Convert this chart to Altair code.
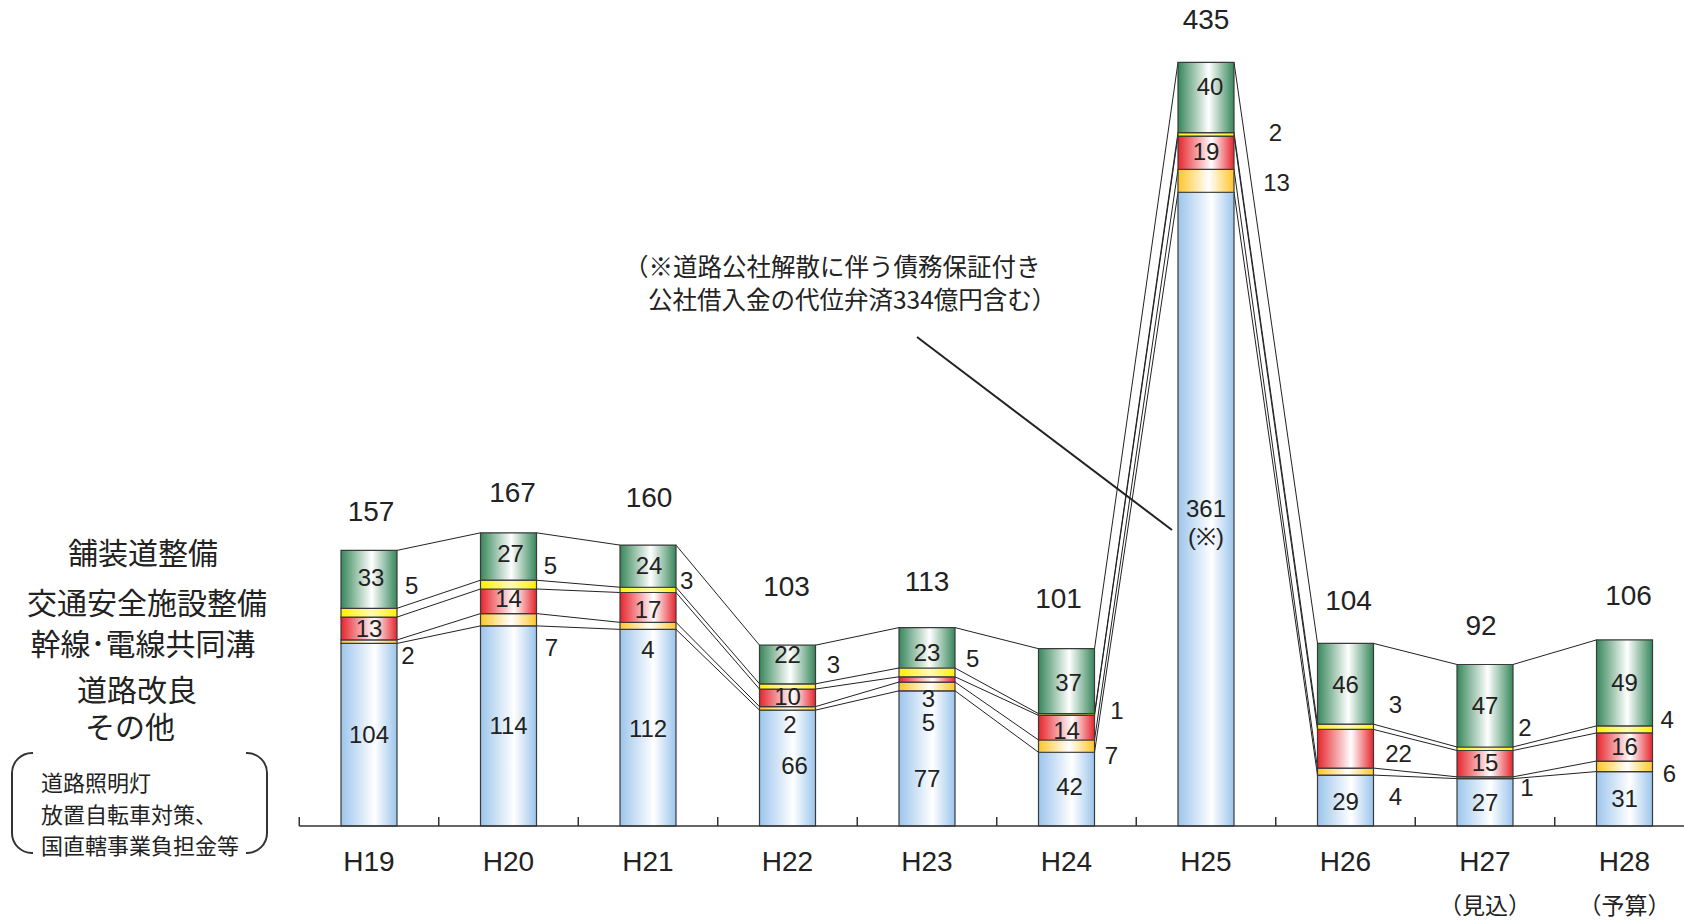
import altair as alt
import pandas as pd

# ---------------- data ----------------
years = ["H19", "H20", "H21", "H22", "H23", "H24", "H25", "H26", "H27", "H28"]
year_notes = ["", "", "", "", "", "", "", "", "（見込）", "（予算）"]
totals = [157, 167, 160, 103, 113, 101, 435, 104, 92, 106]
sonota = [104, 114, 112, 66, 77, 42, 361, 29, 27, 31]        # その他
kairyo = [2, 7, 4, 2, 5, 7, 13, 4, 1, 6]                       # 道路改良
kansen = [13, 14, 17, 10, 3, 14, 19, 22, 15, 16]               # 幹線・電線共同溝
kotsu = [5, 5, 3, 3, 5, 1, 2, 3, 2, 4]                         # 交通安全施設整備
hoso = [33, 27, 24, 22, 23, 37, 40, 46, 47, 49]                # 舗装道整備
series_names = ["その他", "道路改良", "幹線・電線共同溝", "交通安全施設整備", "舗装道整備"]
series_values = [sonota, kairyo, kansen, kotsu, hoso]

# ---------------- layout / style ----------------
X_DOMAIN = [-0.5, 9.5]
X_RANGE = [299.25, 1694.25]
STEP = (X_RANGE[1] - X_RANGE[0]) / 10.0
Y_DOMAIN = [0, 470.5]
Y_RANGE = [826, 0]
PPU = (Y_RANGE[0] - Y_RANGE[1]) / Y_DOMAIN[1]
HALF = 28 / STEP  # half bar width in x units

NUM_FONT = "Liberation Sans"
JP_FONT = "Noto Sans CJK JP"
INK = "#222222"

# label nudges in pixels (dx, dy) relative to segment centre
nudges = {
    "その他": [(0, 1), (0, 1), (0, 2), (7, -1), (0, 22), (3, -1), (0, 1), (0, 2), (0, 2), (0, 1)],
    "道路改良": [(39, 15), (43, 29), (0, 25), (2.5, 18), (1.5, 38), (45, 11), (70.5, 3), (50, 26), (42, 11), (45, 9)],
    "幹線・電線共同溝": [(0, 1.5), (0, -1), (0, 4), (0, 0.5), (1.5, 21), (0, 4), (0, 0.5), (53, 6), (0, 0.5), (0, 1)],
    "交通安全施設整備": [(42.7, -26), (42, -18), (38.7, -8), (45.8, -20), (45.7, -12), (50.5, -3), (69.5, 0), (50, -21), (40, -20), (42.7, -8)],
    "舗装道整備": [(2, 0), (2, -1.5), (1, 1), (0, -8), (0, 6), (2, 3), (4, -9), (0, 2), (0, 1), (0, 1)],
}
total_nudges = [(2, -37), (4, -38.5), (1, -46), (-1, -57), (0, -45), (-8, -49), (0, -41), (3, -41), (-4, -37), (4, -43)]


def grad(edge, mid, pos):
    return {
        "gradient": "linear", "x1": 0, "x2": 1, "y1": 0, "y2": 0,
        "stops": [
            {"offset": 0, "color": edge},
            {"offset": pos, "color": mid},
            {"offset": 1, "color": edge},
        ],
    }


fills = {
    "その他": grad("#9cc5ec", "#ffffff", 0.6),
    "道路改良": grad("#ffc52a", "#ffffff", 0.55),
    "幹線・電線共同溝": grad("#e6262d", "#ffffff", 0.6),
    "交通安全施設整備": grad("#fff000", "#fffbb8", 0.55),
    "舗装道整備": grad("#37875a", "#ffffff", 0.55),
}

xs = alt.Scale(domain=X_DOMAIN, range=X_RANGE, nice=False, zero=False)
ys = alt.Scale(domain=Y_DOMAIN, range=Y_RANGE, nice=False, zero=False)

# ---------------- derived tables ----------------
seg_rows, lab_rows = [], []
cums = []
for i, yr in enumerate(years):
    c = 0
    levels = []
    for s, vals in zip(series_names, series_values):
        v = vals[i]
        seg_rows.append({"series": s, "year": yr, "x0": i - HALF, "x1": i + HALF, "y0": c, "y1": c + v})
        dx, dy = nudges[s][i]
        lab_rows.append({"x": i + dx / STEP, "y": c + v / 2 - dy / PPU, "t": str(v)})
        c += v
        levels.append(c)
    cums.append(levels)
segs = pd.DataFrame(seg_rows)
labs = pd.DataFrame(lab_rows)

link_rows = []
for i in range(len(years) - 1):
    for j in range(5):
        link_rows.append({"x": i + HALF, "x2": i + 1 - HALF, "y": cums[i][j], "y2": cums[i + 1][j]})
links = pd.DataFrame(link_rows)

tot = pd.DataFrame({
    "x": [i + total_nudges[i][0] / STEP for i in range(len(years))],
    "y": [totals[i] - total_nudges[i][1] / PPU for i in range(len(years))],
    "t": [str(v) for v in totals],
})
ticks = pd.DataFrame({"x": [i - 0.5 for i in range(len(years))], "y": 0, "y2": 9 / PPU})
axis_df = pd.DataFrame({"x": [X_DOMAIN[0]], "x2": [X_DOMAIN[1]], "y": [0]})
xlab = pd.DataFrame({"x": list(range(len(years))), "t": years, "n": year_notes})

one = pd.DataFrame({"k": [0]})

layers = []

# bracket (drawn first, under text)
layers.append(alt.Chart(one).mark_rect(cornerRadius=20, fill="white", stroke="#333333", strokeWidth=2).encode(
    x=alt.value(12), x2=alt.value(267), y=alt.value(753), y2=alt.value(853)))
layers.append(alt.Chart(one).mark_rect(fill="white").encode(
    x=alt.value(33), x2=alt.value(246), y=alt.value(749), y2=alt.value(757)))
layers.append(alt.Chart(one).mark_rect(fill="white").encode(
    x=alt.value(33), x2=alt.value(246), y=alt.value(849), y2=alt.value(857)))

# connecting lines
layers.append(alt.Chart(links).mark_rule(color=INK, strokeWidth=1).encode(
    x=alt.X("x:Q", scale=xs, axis=None), x2="x2:Q",
    y=alt.Y("y:Q", scale=ys, axis=None), y2="y2:Q"))

# stacked segments
for s in series_names:
    layers.append(alt.Chart(segs[segs["series"] == s]).mark_rect(
        fill=fills[s], stroke="#3a3a3a", strokeWidth=1.2).encode(
        x=alt.X("x0:Q", scale=xs, axis=None), x2="x1:Q",
        y=alt.Y("y0:Q", scale=ys, axis=None), y2="y1:Q"))

# axis line and ticks
layers.append(alt.Chart(axis_df).mark_rule(color="#333333", strokeWidth=1.5).encode(
    x=alt.X("x:Q", scale=xs, axis=None), x2="x2:Q", y=alt.Y("y:Q", scale=ys, axis=None)))
layers.append(alt.Chart(ticks).mark_rule(color="#333333", strokeWidth=1.5).encode(
    x=alt.X("x:Q", scale=xs, axis=None), y=alt.Y("y:Q", scale=ys, axis=None), y2="y2:Q"))

# segment labels
layers.append(alt.Chart(labs).mark_text(font=NUM_FONT, fontSize=24, color=INK, baseline="middle", align="center").encode(
    x=alt.X("x:Q", scale=xs, axis=None), y=alt.Y("y:Q", scale=ys, axis=None), text="t:N"))

# totals
layers.append(alt.Chart(tot).mark_text(font=NUM_FONT, fontSize=28, color=INK, baseline="middle", align="center").encode(
    x=alt.X("x:Q", scale=xs, axis=None), y=alt.Y("y:Q", scale=ys, axis=None), text="t:N"))

# x-axis labels
layers.append(alt.Chart(xlab).mark_text(font=NUM_FONT, fontSize=28, color=INK, baseline="middle", align="center").encode(
    x=alt.X("x:Q", scale=xs, axis=None), y=alt.value(863), text="t:N"))
layers.append(alt.Chart(xlab).mark_text(font=JP_FONT, fontSize=23, color=INK, baseline="middle", align="center").encode(
    x=alt.X("x:Q", scale=xs, axis=None), y=alt.value(907), text="n:N"))


def note(text, x, y, size, align="center", font=JP_FONT):
    return alt.Chart(one).mark_text(font=font, fontSize=size, color=INK, baseline="middle", align=align).encode(
        x=alt.value(x), y=alt.value(y), text=alt.value(text))


# left legend-like titles
layers.append(note("舗装道整備", 143, 555, 30))
layers.append(note("交通安全施設整備", 147, 605, 30))
layers.append(note("幹線･電線共同溝", 143, 646, 30))
layers.append(note("道路改良", 137, 692, 30))
layers.append(note("その他", 130, 729, 30))
layers.append(note("道路照明灯", 41, 784, 22, align="left"))
layers.append(note("放置自転車対策、", 41, 816, 22, align="left"))
layers.append(note("国直轄事業負担金等", 41, 847, 22, align="left"))

# annotation for H25
layers.append(note("（※道路公社解散に伴う債務保証付き", 624, 269, 24.5, align="left"))
layers.append(note("公社借入金の代位弁済334億円含む）", 648, 302, 24.5, align="left"))
layers.append(alt.Chart(one).mark_rule(color=INK, strokeWidth=2).encode(
    x=alt.value(917), y=alt.value(337), x2=alt.value(1172), y2=alt.value(530)))
layers.append(note("(※)", 1206, 538, 24, font=NUM_FONT))

chart = alt.layer(*layers).properties(
    width=1684, height=922, padding=0, autosize="none", background="white"
).configure_view(strokeWidth=0)

chart.save("out.html", embed_options={"renderer": "svg", "actions": False})
